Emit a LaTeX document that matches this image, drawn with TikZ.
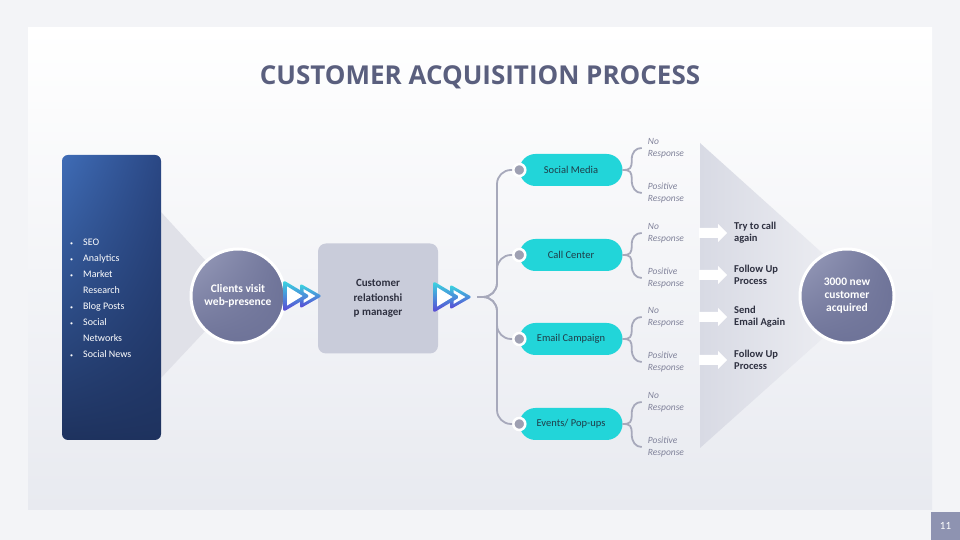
\documentclass[tikz,border=0pt]{standalone}
\usepackage{fontspec}
\setmainfont{Carlito}
\newfontfamily\headfont{Open Sans}
\usepackage{xcolor}
\usepackage{tikz}
\usetikzlibrary{positioning,shadings}
\definecolor{pagegray}{HTML}{F3F4F7}
\definecolor{slidelow}{HTML}{E8EAF0}
\definecolor{titleink}{HTML}{5A5F7E}
\definecolor{panellight}{HTML}{3F6CB6}
\definecolor{panelmid}{HTML}{2A4784}
\definecolor{paneldark}{HTML}{1E325E}
\definecolor{wedgegray}{HTML}{E0E1E8}
\definecolor{bubbledark}{HTML}{6E7398}
\definecolor{bubblelight}{HTML}{9A9EBC}
\definecolor{crmfill}{HTML}{C9CCDA}
\definecolor{darkink}{HTML}{2E3040}
\definecolor{pillcyan}{HTML}{22D5D9}
\definecolor{pillink}{HTML}{1F3C48}
\definecolor{stemgray}{HTML}{A7A9BB}
\definecolor{dotgray}{HTML}{9EA0B2}
\definecolor{respink}{HTML}{80829A}
\definecolor{funnelgray}{HTML}{D8DAE4}
\definecolor{playcyan}{HTML}{3AD8E0}
\definecolor{playviolet}{HTML}{5B43D4}
\definecolor{pagetab}{HTML}{8E93B1}
\newcommand{\itemdot}{\makebox[13pt][l]{\fontsize{6}{6}\selectfont\textbullet}}
\newcommand{\playicon}[1]{%
  \begin{scope}[shift={#1}]
    \shade[top color=playcyan,bottom color=playviolet,rounded corners=2.5pt] (17,12.5) -- (39,0) -- (17,-12.5) -- cycle;
    \fill[white] (20.5,7) -- (32.4,0) -- (20.5,-7) -- cycle;
    \shade[top color=playcyan,bottom color=playviolet,rounded corners=3pt] (0,16) -- (27,0) -- (0,-16) -- cycle;
    \fill[white] (4,9.6) -- (19.6,0) -- (4,-9.6) -- cycle;
  \end{scope}}

\begin{document}
\begin{tikzpicture}[x=1pt,y=1pt,
    bubble/.style={circle,minimum size=94pt,draw=white,line width=3pt,text=white,align=center,
      font=\fontsize{11.5}{13}\selectfont\bfseries,
      upper left=bubblelight,upper right=bubbledark,lower left=bubbledark,lower right=bubbledark},
    pill/.style={rectangle,rounded corners=16pt,fill=pillcyan,minimum width=103pt,minimum height=32pt,
      text=pillink,font=\fontsize{10.5}{12}\selectfont},
    dot/.style={circle,fill=dotgray,draw=white,line width=2.5pt,minimum size=12pt,inner sep=0},
    stem/.style={draw=stemgray,line width=1.8pt},
    resp/.style={inner sep=0,align=left,text=respink,font=\fontsize{9.5}{12}\selectfont\itshape},
    note/.style={inner sep=0,align=left,text=darkink,font=\fontsize{10.5}{12}\selectfont\bfseries}]
        \useasboundingbox (0,0) rectangle (960,540);
        \fill[pagegray] (0,0) rectangle (960,540);
        \shade[top color=white,bottom color=slidelow] (28,30) rectangle (932,512);
        \node[text=titleink,font=\headfont\fontsize{26}{30}\selectfont\bfseries] (heading) at (480,463) {CUSTOMER ACQUISITION PROCESS};

        \fill[wedgegray] (161,328) -- (238,244) -- (161,162) -- cycle;
        \node[rectangle,rounded corners=6pt,minimum width=99pt,minimum height=285pt,
          upper left=panellight,upper right=panelmid,lower left=paneldark,lower right=paneldark] (panel) at (111.5,242.5) {};
        \node[anchor=base west,inner sep=0,align=left,text=white,font=\fontsize{10}{16}\selectfont] (channels) at (70,182.5)
          {\itemdot SEO\\ \itemdot Analytics\\ \itemdot Market\\ \hspace*{13pt}Research\\ \itemdot Blog Posts\\
           \itemdot Social\\ \hspace*{13pt}Networks\\ \itemdot Social News};

        \node[bubble] (visit) at (238,244) {Clients visit\\web-presence};
        \node[rectangle,rounded corners=8pt,fill=crmfill,minimum width=120pt,minimum height=110pt,align=center,
          text=darkink,font=\fontsize{11}{14.5}\selectfont\bfseries] (crm) at (378,241.5) {Customer\\relationshi\\p manager};
        \playicon{(283,244)}
        \playicon{(433,243)}

        \shade[left color=funnelgray,right color=funnelgray!35!white] (700,397) -- (870,244) -- (700,92) -- cycle;

        \coordinate (hub) at (477,243);
        \coordinate (trunk) at (497,243);
        \node[pill] (social) at (571,370) {Social Media};
        \node[pill] (call) at (571,285) {Call Center};
        \node[pill] (email) at (571,201) {Email Campaign};
        \node[pill] (events) at (571,116) {Events/ Pop-ups};
        \foreach \p in {social,call,email,events} {
          \node[dot] (\p-dot) at (\p.west) {};
          \draw[stem,rounded corners=14pt] (hub) -| (trunk |- \p-dot) -- (\p-dot);
          \draw[stem] (\p.east) .. controls +(8,0) and +(0,-8) .. ++(9,10) .. controls +(0,8) and +(-6,0) .. ++(10,12) coordinate (\p-no);
          \draw[stem] (\p.east) .. controls +(8,0) and +(0,8) .. ++(9,-10) .. controls +(0,-8) and +(-6,0) .. ++(10,-13) coordinate (\p-yes);
          \node[resp,right=6pt of \p-no] (\p-notext) {No\\Response};
          \node[resp,right=6pt of \p-yes] (\p-yestext) {Positive\\Response};
        }

        \foreach \y/\n in {307/a,265/b,223/c,180/d} {
          \fill[white] (699,\y+5) -- (718,\y+5) -- (718,\y+9) -- (727,\y) -- (718,\y-9) -- (718,\y-5) -- (699,\y-5) -- cycle;
          \coordinate (tip-\n) at (727,\y);
        }
        \node[note,right=7pt of tip-a] (retry) {Try to call\\again};
        \node[note,right=7pt of tip-b] (followup) {Follow Up\\Process};
        \node[note,right=7pt of tip-c] (resend) {Send\\Email Again};
        \node[note,right=7pt of tip-d] (followagain) {Follow Up\\Process};

        \node[bubble] (won) at (847,244) {3000 new\\customer\\acquired};

        \node[fill=pagetab,minimum width=29pt,minimum height=28pt,inner sep=0,text=white,
          font=\fontsize{11}{12}\selectfont] (pageno) at (945.5,14) {11};
      \end{tikzpicture}
\end{document}
